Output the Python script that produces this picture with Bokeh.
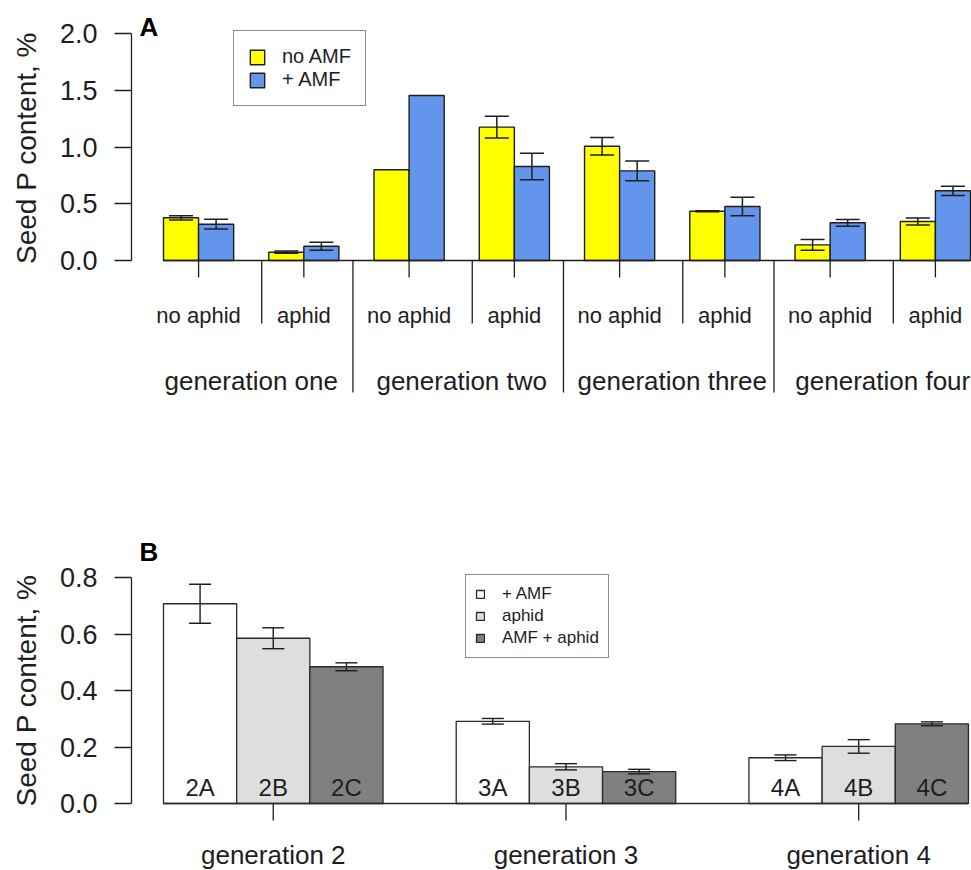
import math
from bokeh.plotting import figure
from bokeh.models import (ColumnDataSource, Range1d, FixedTicker, PrintfTickFormatter,
                          Whisker, TeeHead, Legend, LegendItem)
from bokeh.layouts import column
from bokeh.embed import file_html
from bokeh.resources import INLINE
from bokeh.core.properties import value

FONT = "Liberation Sans"
INK = "#1e1e1e"

# ---------------- Panel A data ----------------
gen_a = ["generation one", "generation two", "generation three", "generation four"]
aphid_a = ["no aphid", "aphid"]
amf_a = ["no AMF", "+ AMF"]
noamf_mean = [0.376, 0.073, 0.799, 1.175, 1.007, 0.434, 0.138, 0.344]
noamf_err = [0.019, 0.010, None, 0.095, 0.077, 0.005, 0.048, 0.031]
amf_mean = [0.320, 0.126, 1.454, 0.828, 0.790, 0.476, 0.332, 0.614]
amf_err = [0.043, 0.035, None, 0.116, 0.087, 0.082, 0.030, 0.041]
a_ticks = [0.0, 0.5, 1.0, 1.5, 2.0]
a_colors = ["#FFFF00", "#6495ED"]

# ---------------- Panel B data ----------------
gen_b = ["generation 2", "generation 3", "generation 4"]
treat_b = ["+ AMF", "aphid", "AMF + aphid"]
code_b = [["2A", "2B", "2C"], ["3A", "3B", "3C"], ["4A", "4B", "4C"]]
mean_b = [[0.707, 0.585, 0.484], [0.291, 0.130, 0.113], [0.162, 0.202, 0.282]]
err_b = [[0.069, 0.037, 0.014], [0.010, 0.011, 0.008], [0.010, 0.024, 0.007]]
b_ticks = [0.0, 0.2, 0.4, 0.6, 0.8]
b_colors = ["#FFFFFF", "#DEDEDE", "#808080"]
y_title = "Seed P content, %"

# ---------------- geometry (pixels) ----------------
W = 971
AXIS_PX = 131          # x pixel of the y axis line
LABEL_BASE_PX = 36     # x pixel of the rotated y title's baseline
MID_FIX = 0.34         # distance (em) from baseline to the text box middle


class Geo:
    def __init__(self, height, x_origin_px, x_unit_px, y_zero_px, y_unit_px):
        self.h = height
        self.xo, self.xu = x_origin_px, x_unit_px
        self.yz, self.yu = y_zero_px, y_unit_px
        self.xr = (-x_origin_px / x_unit_px, (W - x_origin_px) / x_unit_px)
        self.yr = ((y_zero_px - height) / y_unit_px, y_zero_px / y_unit_px)

    def x(self, px):
        return (px - self.xo) / self.xu

    def y(self, py):
        return (self.yz - py) / self.yu

    def dy(self, pixels):
        return pixels / self.yu


GA = Geo(430, 127.9, 35.087, 260.0, 113.5)
GB = Geo(440, 89.8, 73.18, 373.0, 282.5)


def make_fig(g, ticks):
    p = figure(width=W, height=g.h, output_backend="svg", toolbar_location=None,
               x_range=Range1d(*g.xr), y_range=Range1d(*g.yr), x_axis_location=None,
               min_border=0, min_border_left=0, min_border_right=0,
               min_border_top=0, min_border_bottom=0)
    p.outline_line_color = None
    p.grid.visible = False
    p.background_fill_color = "white"
    p.border_fill_color = "white"
    ya = p.yaxis[0]
    ya.fixed_location = g.x(AXIS_PX)
    ya.ticker = FixedTicker(ticks=ticks, minor_ticks=[])
    ya.bounds = (ticks[0], ticks[-1])
    ya.formatter = PrintfTickFormatter(format="%.1f")
    ya.major_tick_out = 17
    ya.major_tick_in = 0
    ya.minor_tick_out = 0
    ya.minor_tick_in = 0
    ya.major_label_standoff = 17
    ya.major_label_text_font = FONT
    ya.major_label_text_font_size = "27px"
    ya.major_label_text_color = INK
    ya.axis_line_color = INK
    ya.axis_line_width = 1.3
    ya.major_tick_line_color = INK
    ya.major_tick_line_width = 1.3
    return p


def add_text(p, g, xs, base_px, texts, size_px, style="normal", align="center", color=INK):
    """base_px: wanted text baseline in canvas pixels (same for all items)."""
    y = g.y(base_px - MID_FIX * size_px)
    p.text(x=xs, y=[y] * len(xs), text=texts, text_font=value(FONT),
           text_font_size=f"{size_px}px", text_font_style=style, text_color=color,
           text_align=align, text_baseline="middle")


def add_vtitle(p, g, center_py, size_px):
    p.text(x=[g.x(LABEL_BASE_PX - MID_FIX * size_px)], y=[g.y(center_py)], text=[y_title],
           text_font=value(FONT), text_font_size=f"{size_px}px", text_color=INK,
           text_align="center", text_baseline="middle", angle=math.pi / 2)


# ======================= Panel A =======================
pA = make_fig(GA, a_ticks)

n_groups = len(noamf_mean)
xs_y = [3 * i + 1.5 for i in range(n_groups)]
xs_b = [3 * i + 2.5 for i in range(n_groups)]
rY = pA.vbar(x=xs_y, top=noamf_mean, bottom=0, width=1.0, fill_color=a_colors[0],
             line_color=INK, line_width=1.4)
rB = pA.vbar(x=xs_b, top=amf_mean, bottom=0, width=1.0, fill_color=a_colors[1],
             line_color=INK, line_width=1.4)

wx, wu, wl = [], [], []
for xs, m, e in ((xs_y, noamf_mean, noamf_err), (xs_b, amf_mean, amf_err)):
    for x, mv, ev in zip(xs, m, e):
        if ev is not None:
            wx.append(x); wu.append(mv + ev); wl.append(mv - ev)
wsrc = ColumnDataSource(dict(x=wx, upper=wu, lower=wl))
pA.add_layout(Whisker(base="x", upper="upper", lower="lower", source=wsrc, level="annotation",
                      line_color=INK, line_width=1.5,
                      upper_head=TeeHead(size=24, line_color=INK, line_width=1.5),
                      lower_head=TeeHead(size=24, line_color=INK, line_width=1.5)))

pA.segment(x0=[1], y0=[0], x1=[3 * n_groups], y1=[0], line_color=INK, line_width=1.3)
centers = [3 * i + 2 for i in range(n_groups)]
pA.segment(x0=centers, y0=[0] * n_groups, x1=centers, y1=[-GA.dy(17)] * n_groups,
           line_color=INK, line_width=1.3)
gen_centers = [6 * g + 3.5 for g in range(len(gen_a))]
short_sep = [c + 0.3 for c in gen_centers]
pA.segment(x0=short_sep, y0=[0] * len(short_sep), x1=short_sep,
           y1=[-GA.dy(63)] * len(short_sep), line_color=INK, line_width=1.3)
long_sep = [6 * g + 6.4 for g in range(len(gen_a) - 1)]
pA.segment(x0=long_sep, y0=[0] * len(long_sep), x1=long_sep,
           y1=[-GA.dy(132)] * len(long_sep), line_color=INK, line_width=1.3)

add_text(pA, GA, centers, 322, [aphid_a[i % 2] for i in range(n_groups)], 22)
add_text(pA, GA, gen_centers, 389, gen_a, 26)
add_text(pA, GA, [GA.x(139)], 35, ["A"], 26, style="bold", align="left", color="#000000")
add_vtitle(pA, GA, 147.5, 28)

legA = Legend(items=[LegendItem(label=amf_a[0], renderers=[rY]),
                     LegendItem(label=amf_a[1], renderers=[rB])],
              location=(233, 324), orientation="vertical", padding=14, spacing=0,
              margin=0, glyph_width=18, glyph_height=18, label_standoff=16,
              label_height=20, label_text_font=FONT, label_text_font_size="20px",
              label_text_color=INK, border_line_color=INK, border_line_width=1.3,
              background_fill_alpha=1.0)
pA.add_layout(legA)

# ======================= Panel B =======================
pB = make_fig(GB, b_ticks)

rend_b = []
bw_x, bw_u, bw_l = [], [], []
lab_x, lab_t = [], []
for k, tname in enumerate(treat_b):
    xs = [4 * g + k + 1.5 for g in range(len(gen_b))]
    tops = [mean_b[g][k] for g in range(len(gen_b))]
    r = pB.vbar(x=xs, top=tops, bottom=0, width=1.0, fill_color=b_colors[k],
                line_color="#2a2a2a", line_width=1.3)
    rend_b.append(r)
    for g, x in enumerate(xs):
        bw_x.append(x); bw_u.append(mean_b[g][k] + err_b[g][k]); bw_l.append(mean_b[g][k] - err_b[g][k])
        lab_x.append(x); lab_t.append(code_b[g][k])

bsrc = ColumnDataSource(dict(x=bw_x, upper=bw_u, lower=bw_l))
pB.add_layout(Whisker(base="x", upper="upper", lower="lower", source=bsrc, level="annotation",
                      line_color=INK, line_width=1.4,
                      upper_head=TeeHead(size=22, line_color=INK, line_width=1.4),
                      lower_head=TeeHead(size=22, line_color=INK, line_width=1.4)))

pB.segment(x0=[1], y0=[0], x1=[4 * len(gen_b)], y1=[0], line_color="#2a2a2a", line_width=1.3)
b_centers = [4 * g + 2.5 for g in range(len(gen_b))]
pB.segment(x0=b_centers, y0=[0] * len(gen_b), x1=b_centers, y1=[-GB.dy(17)] * len(gen_b),
           line_color=INK, line_width=1.3)
add_text(pB, GB, lab_x, 373 - 8, lab_t, 24)
add_text(pB, GB, b_centers, 373 + 60, gen_b, 26)
add_text(pB, GB, [GB.x(139)], 560 - 430, ["B"], 26, style="bold", align="left", color="#000000")
add_vtitle(pB, GB, 690 - 430, 28)

legB = Legend(items=[LegendItem(label=t, renderers=[r]) for t, r in zip(treat_b, rend_b)],
              location=(465, 212), orientation="vertical", padding=9, spacing=2,
              margin=0, glyph_width=10, glyph_height=10, label_standoff=17,
              label_height=17, label_text_font=FONT, label_text_font_size="17px",
              label_text_color=INK, border_line_color=INK, border_line_width=1.3,
              background_fill_alpha=1.0)
pB.add_layout(legB)

layout = column(pA, pB, spacing=0)
with open("out.html", "w") as f:
    f.write(file_html(layout, INLINE))
